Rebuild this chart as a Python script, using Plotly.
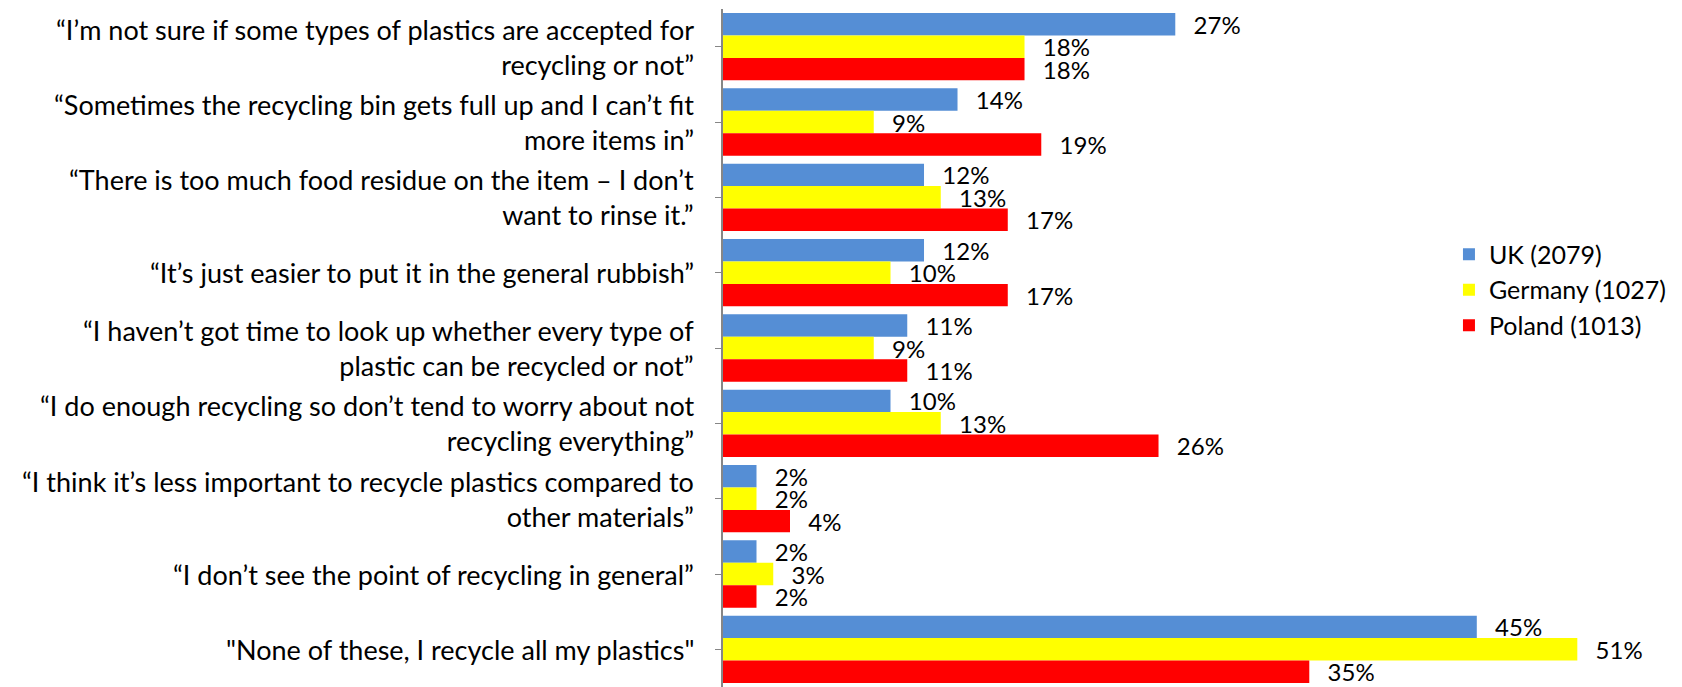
import plotly.graph_objects as go

categories = [
    "“I’m not sure if some types of plastics are accepted for<br>recycling or not”",
    "“Sometimes the recycling bin gets full up and I can’t fit<br>more items in”",
    "“There is too much food residue on the item – I don’t<br>want to rinse it.”",
    "“It’s just easier to put it in the general rubbish”",
    "“I haven’t got time to look up whether every type of<br>plastic can be recycled or not”",
    "“I do enough recycling so don’t tend to worry about not<br>recycling everything”",
    "“I think it’s less important to recycle plastics compared to<br>other materials”",
    "“I don’t see the point of recycling in general”",
    "\"None of these, I recycle all my plastics\"",
]
series_names = ["UK (2079)", "Germany (1027)", "Poland (1013)"]
uk = [27, 14, 12, 12, 11, 10, 2, 2, 45]
germany = [18, 9, 13, 10, 9, 13, 2, 3, 51]
poland = [18, 19, 17, 17, 11, 26, 4, 2, 35]
colors = ["#558ED5", "#FFFF00", "#FF0000"]

FONT = "Lato, Carlito, Calibri, sans-serif"
idx = list(range(len(categories)))

fig = go.Figure()
for name, vals, col in zip(series_names, [uk, germany, poland], colors):
    fig.add_trace(go.Bar(
        y=idx, x=vals, orientation="h", name=name,
        marker=dict(color=col, line=dict(width=0)),
        text=["\u00a0\u00a0\u2009" + f"{v}%" for v in vals],
        textposition="outside", cliponaxis=False, constraintext="none",
        textfont=dict(family=FONT, size=24, color="#000000"),
        hoverinfo="skip",
    ))

for i, c in enumerate(categories):
    fig.add_annotation(
        xref="paper", x=0, xanchor="right", xshift=-27,
        yref="y", y=i, yanchor="middle",
        text=c, align="right", showarrow=False,
        font=dict(family=FONT, size=27, color="#000000"),
    )

fig.update_layout(
    width=1682, height=687,
    margin=dict(l=723, r=0, t=9, b=0),
    barmode="group", bargap=0.106, bargroupgap=0,
    plot_bgcolor="white", paper_bgcolor="white",
    showlegend=True,
    legend=dict(
        x=0.757, y=0.672, xanchor="left", yanchor="top",
        font=dict(family=FONT, size=25, color="#000000"),
        bgcolor="rgba(0,0,0,0)", tracegroupgap=0, itemwidth=30,
    ),
    xaxis=dict(range=[0, 57.25], visible=False, fixedrange=True),
    yaxis=dict(
        autorange="reversed", tickmode="array", tickvals=idx,
        ticktext=["" for _ in idx], tickson="boundaries",
        ticks="outside", ticklen=6, tickcolor="#868686",
        showline=True, linecolor="#868686", linewidth=1.5,
        showgrid=False, zeroline=False, fixedrange=True,
    ),
)

fig.write_html("out.html")
